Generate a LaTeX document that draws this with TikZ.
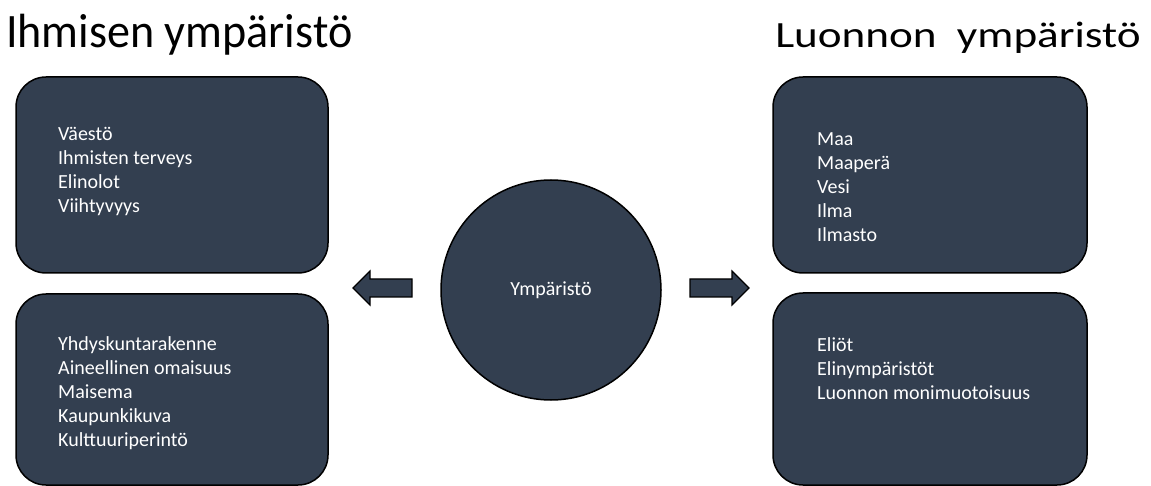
\documentclass[tikz,border=0pt]{standalone}
\usepackage{fontspec}
\setmainfont{Carlito}
\definecolor{boxfill}{HTML}{333F50}
\begin{document}
\begin{tikzpicture}[x=1pt,y=-1pt,
  panel/.style={draw=black,line width=1.5pt,fill=boxfill,rounded corners=30pt},
  items/.style={anchor=north west,inner sep=0pt,align=left,text=white,
    font=\fontsize{20}{24}\selectfont},
  blockarrow/.style={draw=black,line width=1.2pt,fill=boxfill,line join=miter},
  title/.style={anchor=base west,inner sep=0pt,text=black}]
\useasboundingbox (0,0) rectangle (1151,486);
% titles
\node[title,font=\fontsize{48}{56}\selectfont,xscale=0.96] (tl) at (6,48) {Ihmisen ympäristö};
\node[title,font=\fontsize{37}{44}\selectfont,xscale=1.22] (tr) at (775,48) {Luonnon\ \ ympäristö};
% panels
\draw[panel] (16,77) rectangle (328,273);
\draw[panel] (16,294) rectangle (328,485);
\draw[panel] (773,77) rectangle (1087,273);
\draw[panel] (773,293) rectangle (1087,485);
% panel texts
\node[items] (a) at (58,127) {Väestö\\Ihmisten terveys\\Elinolot\\Viihtyvyys};
\node[items] (b) at (58,336) {Yhdyskuntarakenne\\Aineellinen omaisuus\\Maisema\\Kaupunkikuva\\Kulttuuriperintö};
\node[items] (c) at (817,132) {Maa\\Maaperä\\Vesi\\Ilma\\Ilmasto};
\node[items] (d) at (817,337) {Eliöt\\Elinympäristöt\\Luonnon monimuotoisuus};
% central circle
\node[circle,draw=black,line width=1.5pt,fill=boxfill,minimum size=220pt,inner sep=0pt,
  text=white,font=\fontsize{20}{24}\selectfont] (env) at (551,290) {Ympäristö};
% block arrows
\draw[blockarrow] (353,288) -- (370,271) -- (370,279) -- (412,279) -- (412,297) -- (370,297) -- (370,305) -- cycle;
\draw[blockarrow] (749,288) -- (732,271) -- (732,279) -- (690,279) -- (690,297) -- (732,297) -- (732,305) -- cycle;
\end{tikzpicture}
\end{document}
